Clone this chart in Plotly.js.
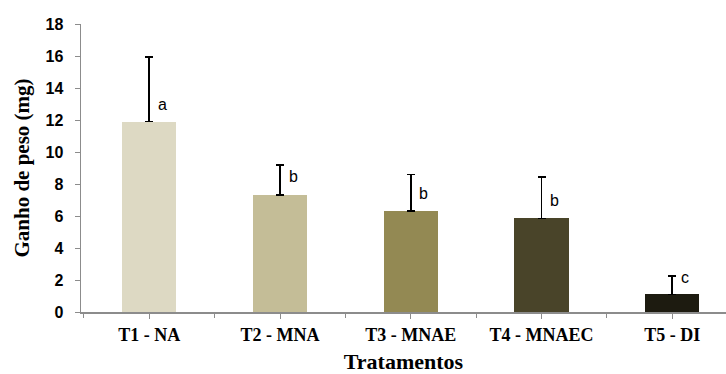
<!DOCTYPE html>
<html>
<head>
<meta charset="utf-8">
<script src="https://cdn.plot.ly/plotly-3.0.1.min.js"></script>
<style>html,body{margin:0;padding:0;background:#fff;}#chart{width:726px;height:374px;}</style>
</head>
<body>
<div id="chart"></div>
<script>
const categories = ["T1 - NA", "T2 - MNA", "T3 - MNAE", "T4 - MNAEC", "T5 - DI"];
const values = [11.9, 7.3, 6.3, 5.85, 1.1];
const errors = [4.05, 1.9, 2.3, 2.6, 1.15];
const letters = ["a", "b", "b", "b", "c"];
const letterHeights = [13.0, 8.45, 7.4, 7.0, 2.15];
const barColors = ["#DDD9C3", "#C4BD97", "#938953", "#494429", "#1D1B10"];

const xRange = [-0.522, 4.411];

const traces = [
  {
    type: "bar",
    x: categories,
    y: values,
    width: 0.415,
    marker: {color: barColors, line: {width: 0}},
    error_y: {type: "data", array: errors, symmetric: false, arrayminus: errors.map(() => 0),
              color: "#000000", thickness: 1.6, width: 4},
    hoverinfo: "x+y",
    xaxis: "x", yaxis: "y"
  },
  {
    type: "scatter",
    x: categories,
    y: values,
    mode: "markers",
    marker: {opacity: 0},
    hoverinfo: "skip",
    showlegend: false,
    xaxis: "x2", yaxis: "y"
  }
];

const annotations = categories.map((c, i) => ({
  x: c, y: letterHeights[i], xref: "x", yref: "y",
  text: letters[i], showarrow: false, xshift: 13,
  font: {family: "Liberation Sans, Arial, sans-serif", size: 16, color: "#000"}
}));

const layout = {
  width: 726, height: 374,
  margin: {l: 81, r: 0, t: 24, b: 62, pad: 0},
  paper_bgcolor: "#ffffff", plot_bgcolor: "#ffffff",
  showlegend: false,
  xaxis: {
    type: "category", categoryarray: categories, range: xRange,
    showline: true, linecolor: "#8c8c8c", linewidth: 1.5,
    ticks: "outside", ticklen: 5, tickcolor: "#8c8c8c", tickwidth: 1,
    ticklabelstandoff: 1,
    tickfont: {family: "Liberation Serif, Times New Roman, serif", size: 18, color: "#000", weight: "bold"},
    showgrid: false, zeroline: false,
    title: {text: "<b>Tratamentos</b>", standoff: 9,
            font: {family: "Liberation Serif, Times New Roman, serif", size: 22, color: "#000"}}
  },
  xaxis2: {
    type: "category", categoryarray: categories, range: xRange,
    overlaying: "x", side: "bottom", anchor: "y",
    tickson: "boundaries", ticks: "outside", ticklen: 5, tickcolor: "#8c8c8c", tickwidth: 1,
    showticklabels: false, showline: false, showgrid: false, zeroline: false
  },
  yaxis: {
    range: [0, 18], dtick: 2, tick0: 0,
    showline: true, linecolor: "#8c8c8c", linewidth: 1.5,
    ticks: "outside", ticklen: 5, tickcolor: "#8c8c8c", tickwidth: 1,
    ticklabelstandoff: 8,
    tickfont: {family: "Liberation Sans, Arial, sans-serif", size: 16, color: "#000", weight: "bold"},
    showgrid: false, zeroline: false,
    title: {text: "<b>Ganho de peso (mg)</b>", standoff: 10,
            font: {family: "Liberation Serif, Times New Roman, serif", size: 21, color: "#000"}}
  },
  annotations: annotations,
  bargap: 0
};

Plotly.newPlot("chart", traces, layout, {displayModeBar: false, staticPlot: true});
</script>
</body>
</html>
